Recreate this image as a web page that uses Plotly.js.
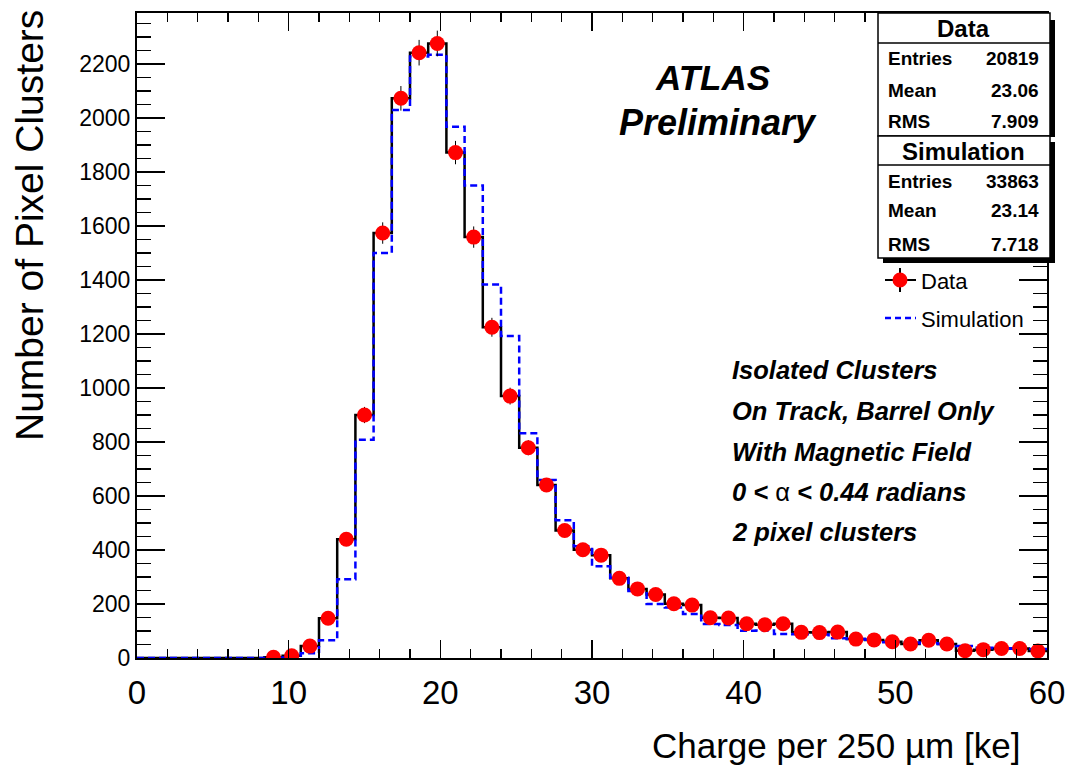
<!DOCTYPE html>
<html><head><meta charset="utf-8">
<script src="https://cdn.plot.ly/plotly-3.0.1.min.js"></script>
<style>html,body{margin:0;padding:0;background:#fff}</style>
</head><body>
<div id="chart" style="width:1070px;height:766px"></div>
<script>
// ---- data ----
const binWidth = 1.2;
const xStart = 0;
const dataCounts = [0,0,0,0,0,0,0,3,8,44,147,440,900,1574,2073,2242,2276,1872,1559,1225,970,779,641,472,401,381,295,256,235,201,196,149,148,127,123,127,95,94,96,70,67,60,52,66,52,27,31,35,35,26];
const simCounts  = [0,0,0,0,0,0,0,1,2,18,66,292,808,1500,2030,2228,2234,1968,1750,1383,1193,832,659,510,414,340,297,248,200,187,163,126,122,101,102,89,88,87,73,70,68,58,57,55,52,44,38,36,34,33];
const statLabels = ['Entries','Mean','RMS'];
const dataStats  = ['20819','23.06','7.909'];
const simStats   = ['33863','23.14','7.718'];
const infoLines = ['Isolated Clusters','On Track, Barrel Only','With Magnetic Field',
  '0 < <span style="font-weight:normal;font-style:normal">α</span> < 0.44 radians','2 pixel clusters'];

// ---- derived ----
const nBins = dataCounts.length;
const edges = Array.from({length:nBins+1},(_,i)=>xStart+i*binWidth);
const centers = dataCounts.map((_,i)=>xStart+(i+0.5)*binWidth);
const stepY = a => a.concat([a[a.length-1]]);
const ptsX = [], ptsY = [], ptsE = [];
dataCounts.forEach((v,i)=>{ if(v>0){ptsX.push(centers[i]);ptsY.push(v);ptsE.push(Math.sqrt(v));} });

// ---- layout helpers (pixel -> paper) ----
const L=137, R=1047, T=13, B=658;
const px = x => (x-L)/(R-L);
const py = y => (B-y)/(B-T);
const FONT = 'Liberation Sans, Arial, Helvetica, sans-serif';

const traces = [
  {x:edges, y:stepY(dataCounts), mode:'lines', line:{shape:'hv', color:'#000', width:2.5}, hoverinfo:'skip', showlegend:false},
  {x:edges, y:stepY(simCounts), mode:'lines', line:{shape:'hv', color:'#0000ff', width:2.5, dash:'7px,4px'}, hoverinfo:'skip', showlegend:false},
  {x:ptsX, y:ptsY, mode:'markers', marker:{color:'#ff0000', size:15}, error_y:{type:'data', array:ptsE, visible:true, color:'#000', thickness:1, width:0}, showlegend:false}
];

const shapes = [];
const ann = [];
function rect(x0,y0,x1,y1,fill,lw){shapes.push({type:'rect',xref:'paper',yref:'paper',x0:px(x0),x1:px(x1),y0:py(y0),y1:py(y1),fillcolor:fill,line:{color:'#000',width:lw}});}
function hline(x0,x1,y,color,w,dash){shapes.push({type:'line',xref:'paper',yref:'paper',x0:px(x0),x1:px(x1),y0:py(y),y1:py(y),line:{color:color,width:w,dash:dash||'solid'}});}
function vline(x,y0,y1,color,w){shapes.push({type:'line',xref:'paper',yref:'paper',x0:px(x),x1:px(x),y0:py(y0),y1:py(y1),line:{color:color,width:w}});}
function txt(s,x,y,size,opts){ann.push(Object.assign({text:s,xref:'paper',yref:'paper',x:px(x),y:py(y),showarrow:false,xanchor:'left',yanchor:'middle',font:{family:FONT,size:size,color:'#000'}},opts||{}));}

// stats boxes with shadows
rect(1050,20,1055,137,'#000',0);
rect(883,258,1055,263,'#000',0);
rect(1050,142,1055,263,'#000',0);
rect(878,13,1050,136,'#fff',1.5);
rect(878,136,1050,258,'#fff',1.5);
hline(878,1050,43,'#000',1.5);
hline(878,1050,165,'#000',1.5);
txt('Data',963,28,24,{xanchor:'center',font:{family:FONT,size:24,color:'#000',weight:'bold'}});
txt('Simulation',963,151,24,{xanchor:'center',font:{family:FONT,size:24,color:'#000',weight:'bold'}});
const dataRowY=[58,91,121], simRowY=[182,211,244];
statLabels.forEach((lab,i)=>{
  txt(lab,886,dataRowY[i],19,{font:{family:FONT,size:19,color:'#000',weight:'bold'}});
  txt(dataStats[i],1041,dataRowY[i],19,{xanchor:'right',font:{family:FONT,size:19,color:'#000',weight:'bold'}});
  txt(lab,886,simRowY[i],19,{font:{family:FONT,size:19,color:'#000',weight:'bold'}});
  txt(simStats[i],1041,simRowY[i],19,{xanchor:'right',font:{family:FONT,size:19,color:'#000',weight:'bold'}});
});

// legend
hline(885,916,280,'#000',2);
vline(900,268,292,'#000',2);
shapes.push({type:'circle',xref:'paper',yref:'paper',xsizemode:'pixel',ysizemode:'pixel',xanchor:px(900),yanchor:py(280),x0:-7.5,x1:7.5,y0:-7.5,y1:7.5,fillcolor:'#ff0000',line:{width:0}});
txt('Data',919,281,22);
hline(885,916,318,'#0000ff',2.5,'6px,4px');
txt('Simulation',919,319,22);

// ATLAS label
txt('ATLAS',712,78,35,{xanchor:'center',font:{family:FONT,size:35,color:'#000',weight:'bold',style:'italic'}});
txt('Preliminary',718,123,36,{xanchor:'center',font:{family:FONT,size:36,color:'#000',weight:'bold',style:'italic'}});

// info lines
const infoY=[370,411,452,492,532];
infoLines.forEach((s,i)=>txt(s,730,infoY[i],25.5,{font:{family:FONT,size:25.5,color:'#000',weight:'bold',style:'italic'}}));

// axis titles
txt('Charge per 250 µm [ke]',1022,745,35,{xanchor:'right'});
txt('Number of Pixel Clusters',29,226,39,{xanchor:'center',textangle:-90});

const layout = {
  width:1070, height:766,
  margin:{l:L, r:1070-R, t:T, b:766-B, pad:0},
  paper_bgcolor:'#fff', plot_bgcolor:'#fff',
  showlegend:false,
  xaxis:{range:[0,60], autorange:false, tick0:0, dtick:10, ticks:'inside', ticklen:18, tickwidth:1.5, tickcolor:'#000',
    showline:true, linecolor:'#000', linewidth:2, mirror:'ticks', showgrid:false, zeroline:false,
    tickfont:{family:FONT,size:33,color:'#000'}, ticklabelstandoff:4,
    minor:{dtick:2, ticks:'inside', ticklen:9, tickwidth:1.5, tickcolor:'#000', showgrid:false}},
  yaxis:{range:[0,2389], autorange:false, tick0:0, dtick:200, ticks:'inside', ticklen:28, tickwidth:1.5, tickcolor:'#000',
    showline:true, linecolor:'#000', linewidth:2, mirror:'ticks', showgrid:false, zeroline:false,
    tickfont:{family:FONT,size:23,color:'#000'},
    minor:{dtick:50, ticks:'inside', ticklen:14, tickwidth:1.5, tickcolor:'#000', showgrid:false}},
  shapes:shapes, annotations:ann
};
Plotly.newPlot('chart', traces, layout, {staticPlot:true, displayModeBar:false});
</script>
</body></html>
